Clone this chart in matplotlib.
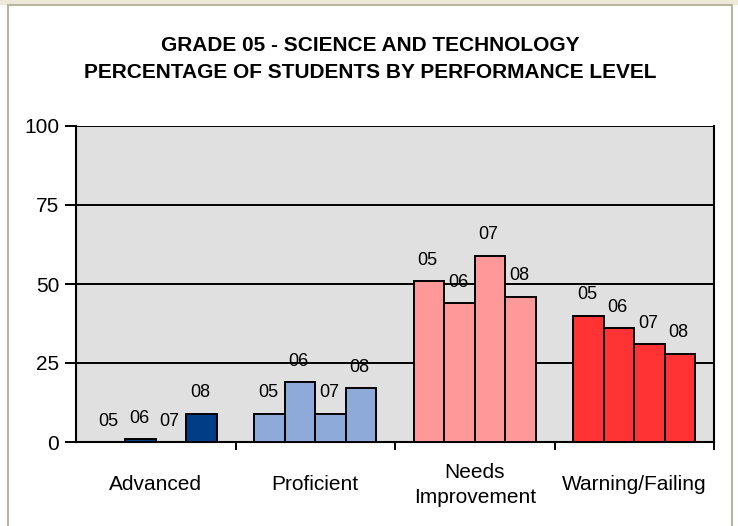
import matplotlib
matplotlib.use("Agg")
import matplotlib.pyplot as plt
from matplotlib.patches import Rectangle
import matplotlib.transforms as mtransforms
import numpy as np

categories = ["Advanced", "Proficient", "Needs\nImprovement", "Warning/Failing"]
years = ["05", "06", "07", "08"]
advanced = [0, 1, 0, 9]
proficient = [9, 19, 9, 17]
needs_improvement = [51, 44, 59, 46]
warning_failing = [40, 36, 31, 28]
yticks = [0, 25, 50, 75, 100]

colors = ["#003d87", "#8eaad8", "#ff9999", "#ff3333"]
values = [advanced, proficient, needs_improvement, warning_failing]

plt.rcParams['font.family'] = ['Liberation Sans', 'DejaVu Sans']

W, H = 738, 526
fig = plt.figure(figsize=(W / 100, H / 100), dpi=100)
fig.patch.set_facecolor("white")

# outer frame like the screenshot border
fig.add_artist(Rectangle((0, 1 - 5 / H), 1, 5 / H, transform=fig.transFigure,
                         facecolor="#ece9d8", edgecolor="none"))
fig.add_artist(Rectangle((8 / W, -0.01), (732 - 8) / W, 1.01 - 5 / H,
                         transform=fig.transFigure, fill=False,
                         edgecolor="#b8b4a0", lw=1.5))

ax = fig.add_axes([76 / W, (H - 442) / H, (714 - 76) / W, (442 - 126) / H])
ax.set_facecolor("#e0e0e0")

x = np.arange(len(categories))
w = 0.191
for i, (vals, c) in enumerate(zip(values, colors)):
    for j, v in enumerate(vals):
        xp = x[i] + (j - 1.5) * w
        if v > 0:
            ax.bar(xp, v, width=w, color=c, edgecolor="black", linewidth=1.4, zorder=3)
        ax.annotate(years[j], (xp, v), xytext=(-1, 15), textcoords="offset points",
                    ha="center", va="center", fontsize=13, zorder=4)

ax.set_xlim(-0.5, 3.5)
ax.set_ylim(0, 100)
ax.set_yticks(yticks)
ax.set_yticklabels([str(t) for t in yticks], fontsize=15)
ax.yaxis.grid(True, color="black", linewidth=1.4, zorder=1)
ax.set_axisbelow(True)

ax.set_xticks([0.5, 1.5, 2.5, 3.5])
ax.set_xticklabels([])
ax.tick_params(axis="x", which="major", length=6, width=1.4, direction="out")
ax.tick_params(axis="y", length=8, width=1.4, direction="out", pad=4)

# category labels, vertically centred below the axis
trans = mtransforms.blended_transform_factory(ax.transData, fig.transFigure)
for xi, name in zip(x, categories):
    ax.text(xi, 1 - 485 / H, name, transform=trans, ha="center", va="center",
            fontsize=15, linespacing=1.4)

for s in ax.spines.values():
    s.set_linewidth(1.5)
    s.set_color("black")
ax.spines["top"].set_visible(False)

fig.text(370 / W, 1 - 59 / H,
         "GRADE 05 - SCIENCE AND TECHNOLOGY\nPERCENTAGE OF STUDENTS BY PERFORMANCE LEVEL",
         ha="center", va="center", fontsize=15, fontweight="bold", linespacing=1.5)

fig.savefig("out.png", dpi=100)
